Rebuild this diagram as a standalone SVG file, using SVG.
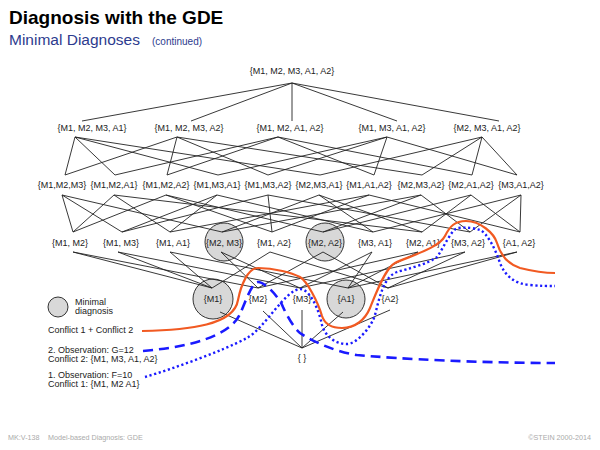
<svg xmlns="http://www.w3.org/2000/svg" width="600" height="450" viewBox="0 0 600 450">
<style>
text{font-family:"Liberation Sans",Arial,sans-serif;}
.n{font-size:9px;fill:#222;text-anchor:middle;}
.lg{font-size:9px;fill:#222;}
.c line{stroke:#222;stroke-width:0.9;}
.circ{fill:#d8d8d8;stroke:#333;stroke-width:1;}
.ft{font-size:7.2px;fill:#aaa;}
</style>
<rect width="600" height="450" fill="#fff"/>
<text x="9" y="24" style="font-size:19px;font-weight:bold;fill:#000">Diagnosis with the GDE</text>
<text x="9" y="45" style="font-size:15.5px;fill:#2d3b8e">Minimal Diagnoses</text>
<text x="152" y="45" style="font-size:10px;fill:#2d3b8e">(continued)</text>

<g id="minimal-circles">
<circle class="circ" cx="224" cy="242" r="19"/>
<circle class="circ" cx="325" cy="242" r="19"/>
<circle class="circ" cx="213" cy="299" r="20"/>
<circle class="circ" cx="346" cy="299" r="19"/>
</g>

<g id="connectors" class="c">
<line x1="292" y1="83" x2="82" y2="121"/>
<line x1="292" y1="83" x2="191" y2="121"/>
<line x1="292" y1="83" x2="292" y2="121"/>
<line x1="292" y1="83" x2="397" y2="121"/>
<line x1="292" y1="83" x2="499" y2="121"/>

<line x1="75" y1="137" x2="65" y2="175"/>
<line x1="75" y1="137" x2="115" y2="175"/>
<line x1="75" y1="137" x2="218" y2="175"/>
<line x1="75" y1="137" x2="320" y2="175"/>
<line x1="177" y1="137" x2="65" y2="175"/>
<line x1="177" y1="137" x2="167" y2="175"/>
<line x1="177" y1="137" x2="268" y2="175"/>
<line x1="177" y1="137" x2="422" y2="175"/>
<line x1="278" y1="137" x2="115" y2="175"/>
<line x1="278" y1="137" x2="167" y2="175"/>
<line x1="278" y1="137" x2="374" y2="175"/>
<line x1="278" y1="137" x2="472" y2="175"/>
<line x1="387" y1="137" x2="218" y2="175"/>
<line x1="387" y1="137" x2="268" y2="175"/>
<line x1="387" y1="137" x2="374" y2="175"/>
<line x1="387" y1="137" x2="517" y2="175"/>
<line x1="482" y1="137" x2="320" y2="175"/>
<line x1="482" y1="137" x2="422" y2="175"/>
<line x1="482" y1="137" x2="472" y2="175"/>
<line x1="482" y1="137" x2="517" y2="175"/>

<line x1="62" y1="195" x2="73" y2="232"/>
<line x1="62" y1="195" x2="122" y2="232"/>
<line x1="62" y1="195" x2="222" y2="232"/>
<line x1="114" y1="195" x2="73" y2="232"/>
<line x1="114" y1="195" x2="170" y2="232"/>
<line x1="114" y1="195" x2="422" y2="232"/>
<line x1="166" y1="195" x2="73" y2="232"/>
<line x1="166" y1="195" x2="272" y2="232"/>
<line x1="166" y1="195" x2="323" y2="232"/>
<line x1="217" y1="195" x2="122" y2="232"/>
<line x1="217" y1="195" x2="170" y2="232"/>
<line x1="217" y1="195" x2="373" y2="232"/>
<line x1="268" y1="195" x2="122" y2="232"/>
<line x1="268" y1="195" x2="272" y2="232"/>
<line x1="268" y1="195" x2="470" y2="232"/>
<line x1="319" y1="195" x2="222" y2="232"/>
<line x1="319" y1="195" x2="373" y2="232"/>
<line x1="319" y1="195" x2="422" y2="232"/>
<line x1="369" y1="195" x2="170" y2="232"/>
<line x1="369" y1="195" x2="272" y2="232"/>
<line x1="369" y1="195" x2="520" y2="232"/>
<line x1="421" y1="195" x2="222" y2="232"/>
<line x1="421" y1="195" x2="323" y2="232"/>
<line x1="421" y1="195" x2="470" y2="232"/>
<line x1="471" y1="195" x2="323" y2="232"/>
<line x1="471" y1="195" x2="422" y2="232"/>
<line x1="471" y1="195" x2="520" y2="232"/>
<line x1="521" y1="195" x2="373" y2="232"/>
<line x1="521" y1="195" x2="470" y2="232"/>
<line x1="521" y1="195" x2="520" y2="232"/>

<line x1="73" y1="252" x2="212" y2="288"/>
<line x1="73" y1="252" x2="258" y2="288"/>
<line x1="118" y1="252" x2="212" y2="288"/>
<line x1="118" y1="252" x2="300" y2="288"/>
<line x1="170" y1="252" x2="212" y2="288"/>
<line x1="170" y1="252" x2="348" y2="288"/>
<line x1="221" y1="252" x2="258" y2="288"/>
<line x1="221" y1="252" x2="300" y2="288"/>
<line x1="270" y1="252" x2="212" y2="288"/>
<line x1="270" y1="252" x2="388" y2="288"/>
<line x1="323" y1="252" x2="258" y2="288"/>
<line x1="323" y1="252" x2="388" y2="288"/>
<line x1="372" y1="252" x2="300" y2="288"/>
<line x1="372" y1="252" x2="348" y2="288"/>
<line x1="418" y1="252" x2="258" y2="288"/>
<line x1="418" y1="252" x2="348" y2="288"/>
<line x1="465" y1="252" x2="300" y2="288"/>
<line x1="465" y1="252" x2="388" y2="288"/>
<line x1="517" y1="252" x2="348" y2="288"/>
<line x1="517" y1="252" x2="388" y2="288"/>

<line x1="220" y1="312" x2="302" y2="348"/>
<line x1="263" y1="311" x2="302" y2="348"/>
<line x1="302" y1="310" x2="302" y2="348"/>
<line x1="343" y1="312" x2="302" y2="348"/>
<line x1="390" y1="310" x2="302" y2="348"/>
</g>

<g id="n-top"><text class="n" x="292" y="74">{M1, M2, M3, A1, A2}</text></g>
<g id="n-M1M2M3A1"><text class="n" x="92" y="131">{M1, M2, M3, A1}</text></g>
<g id="n-M1M2M3A2"><text class="n" x="189" y="131">{M1, M2, M3, A2}</text></g>
<g id="n-M1M2A1A2"><text class="n" x="290" y="131">{M1, M2, A1, A2}</text></g>
<g id="n-M1M3A1A2"><text class="n" x="392" y="131">{M1, M3, A1, A2}</text></g>
<g id="n-M2M3A1A2"><text class="n" x="487" y="131">{M2, M3, A1, A2}</text></g>

<g id="n-M1M2M3"><text class="n" x="62" y="188">{M1,M2,M3}</text></g>
<g id="n-M1M2A1"><text class="n" x="114" y="188">{M1,M2,A1}</text></g>
<g id="n-M1M2A2"><text class="n" x="166" y="188">{M1,M2,A2}</text></g>
<g id="n-M1M3A1"><text class="n" x="217" y="188">{M1,M3,A1}</text></g>
<g id="n-M1M3A2"><text class="n" x="268" y="188">{M1,M3,A2}</text></g>
<g id="n-M2M3A1"><text class="n" x="319" y="188">{M2,M3,A1}</text></g>
<g id="n-M1A1A2"><text class="n" x="369" y="188">{M1,A1,A2}</text></g>
<g id="n-M2M3A2"><text class="n" x="421" y="188">{M2,M3,A2}</text></g>
<g id="n-M2A1A2"><text class="n" x="471" y="188">{M2,A1,A2}</text></g>
<g id="n-M3A1A2"><text class="n" x="521" y="188">{M3,A1,A2}</text></g>

<g id="n-M1M2"><text class="n" x="70" y="246">{M1, M2}</text></g>
<g id="n-M1M3"><text class="n" x="121" y="246">{M1, M3}</text></g>
<g id="n-M1A1"><text class="n" x="173" y="246">{M1, A1}</text></g>
<g id="n-M2M3"><text class="n" x="224" y="246">{M2, M3}</text></g>
<g id="n-M1A2"><text class="n" x="274" y="246">{M1, A2}</text></g>
<g id="n-M2A2"><text class="n" x="325" y="246">{M2, A2}</text></g>
<g id="n-M3A1"><text class="n" x="375" y="246">{M3, A1}</text></g>
<g id="n-M2A1"><text class="n" x="423" y="246">{M2, A1}</text></g>
<g id="n-M3A2"><text class="n" x="468" y="246">{M3, A2}</text></g>
<g id="n-A1A2"><text class="n" x="519" y="246">{A1, A2}</text></g>

<g id="n-M1"><text class="n" x="213" y="302">{M1}</text></g>
<g id="n-M2"><text class="n" x="258" y="302">{M2}</text></g>
<g id="n-M3"><text class="n" x="302" y="302">{M3}</text></g>
<g id="n-A1"><text class="n" x="346" y="302">{A1}</text></g>
<g id="n-A2"><text class="n" x="390" y="302">{A2}</text></g>
<g id="n-empty"><text class="n" x="302" y="361">{ }</text></g>

<g id="legend">
<circle class="circ" cx="58" cy="307" r="10"/>
<text class="lg" x="75" y="305">Minimal</text>
<text class="lg" x="75" y="314">diagnosis</text>
<text class="lg" x="48" y="333">Conflict 1 + Conflict 2</text>
<text class="lg" x="48" y="353">2. Observation: G=12</text>
<text class="lg" x="48" y="362">Conflict 2: {M1, M3, A1, A2}</text>
<text class="lg" x="48" y="378">1. Observation: F=10</text>
<text class="lg" x="48" y="387">Conflict 1: {M1, M2 A1}</text>
</g>

<g id="curves" fill="none">
<path d="M142,331 C190,330 234,325 238,300 C241,285 248,268 258,268 C275,268 292,273 300,277 C307,281 318,302 322,316 C325,325 332,328 342,328 C355,328 365,320 370,308 C375,296 385,268 395,263 C410,256 439,248 445,236 C450,226 455,221 466,221 C480,221 494,233 497,243 C500,253 507,264 520,268 C532,271 545,273 555,273" stroke="#f15a22" stroke-width="2.2"/>
<path d="M143,351 C190,347 230,336 240,314 C245,303 252,282 258,282 C265,282 279,297 283,307 C287,316 294,328 300,333 C310,340 335,352 357,355 C400,359 480,363 555,363" stroke="#1a1aff" stroke-width="2.6" stroke-dasharray="10 6"/>
<path d="M145,377 C175,368 220,352 247,338 C265,328 285,290 300,289 C310,289 319,310 322,325 C325,336 335,344 347,344 C357,344 372,326 375,315 C380,295 384,277 397,272 C407,269 428,264 437,257 C443,249 452,228 458,228 C466,227 474,228 480,230 C487,233 495,248 500,263 C505,276 515,284 530,285 C540,286 548,286 555,286" stroke="#1a1aff" stroke-width="2.4" stroke-dasharray="2.2 2.6"/>
</g>

<g id="footer">
<text class="ft" x="8" y="440">MK:V-138</text>
<text class="ft" x="48" y="440">Model-based Diagnosis: GDE</text>
<text class="ft" x="591" y="440" text-anchor="end">©STEIN 2000-2014</text>
</g>
</svg>
